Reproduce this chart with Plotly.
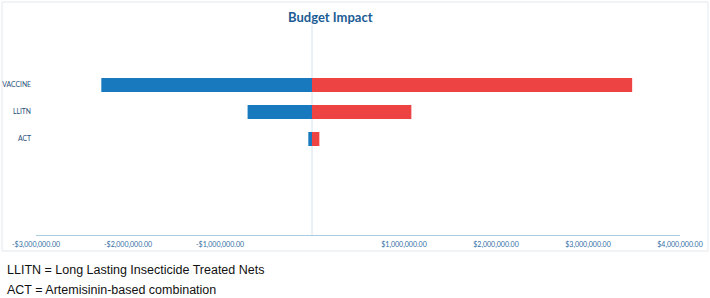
import plotly.graph_objects as go

# ---- data ----
categories = ["VACCINE", "LLITN", "ACT"]
savings = [-2290000, -700000, -40000]      # blue (negative side)
costs = [3480000, 1080000, 80000]          # red (positive side)
x_tick_values = [-3000000, -2000000, -1000000, 1000000, 2000000, 3000000, 4000000]
x_tick_labels = ["-$3,000,000.00", "-$2,000,000.00", "-$1,000,000.00",
                 "$1,000,000.00", "$2,000,000.00", "$3,000,000.00", "$4,000,000.00"]
title_text = "Budget Impact"
footnotes = ["LLITN = Long Lasting Insecticide Treated Nets",
             "ACT = Artemisinin-based combination"]

W, H = 710, 298
L, R, T, B = 36, 30, 46, 63
pw, ph = W - L - R, H - T - B

def px_x(px):
    return (px - L) / pw

def px_y(py):
    return (H - B - py) / ph

fig = go.Figure()
fig.add_trace(go.Bar(y=categories, x=savings, orientation="h", width=0.52,
                     marker=dict(color="#1879be", line=dict(width=0)),
                     hoverinfo="x+y", showlegend=False))
fig.add_trace(go.Bar(y=categories, x=costs, orientation="h", width=0.52,
                     marker=dict(color="#ee4343", line=dict(width=0)),
                     hoverinfo="x+y", showlegend=False))

fig.update_layout(
    width=W, height=H,
    margin=dict(l=L, r=R, t=T, b=B, pad=0, autoexpand=False),
    barmode="relative",
    paper_bgcolor="white", plot_bgcolor="white",
    font=dict(family="Lato, sans-serif"),
    xaxis=dict(range=[-3000000, 4000000], tickvals=x_tick_values, ticktext=x_tick_labels,
               showgrid=False, zeroline=False, showline=True, linecolor="#a9cde0",
               linewidth=1, ticks="", tickfont=dict(size=7, color="#2e6da4"),
               ticklabelstandoff=3, automargin=False, fixedrange=True),
    yaxis=dict(categoryorder="array", categoryarray=categories[::-1],
               range=[-(235 - 139) / 27, (139 - 46) / 27],
               showgrid=False, zeroline=False, showline=False, ticks="",
               tickfont=dict(size=6.8, color="#1f4e79"), ticklabelstandoff=4,
               automargin=False, fixedrange=True),
    shapes=[
        dict(type="rect", xref="paper", yref="paper",
             x0=px_x(2), x1=px_x(708), y0=px_y(251), y1=px_y(2),
             line=dict(color="#e3e8ec", width=1), fillcolor="rgba(0,0,0,0)", layer="below"),
        dict(type="line", xref="x", yref="paper", x0=0, x1=0,
             y0=0, y1=px_y(25), line=dict(color="#d3e4ee", width=1), layer="below"),
    ],
    annotations=[
        dict(text="<b>%s</b>" % title_text, xref="paper", yref="paper",
             x=px_x(330), y=px_y(17), xanchor="center", yanchor="middle",
             showarrow=False, font=dict(family="Lato, sans-serif", size=13, color="#1c5c94")),
        dict(text=footnotes[0], xref="paper", yref="paper",
             x=px_x(5), y=px_y(270), xanchor="left", yanchor="middle",
             showarrow=False, font=dict(family="Liberation Sans, Arial, sans-serif", size=12.5, color="#111111")),
        dict(text=footnotes[1], xref="paper", yref="paper",
             x=px_x(5), y=px_y(290), xanchor="left", yanchor="middle",
             showarrow=False, font=dict(family="Liberation Sans, Arial, sans-serif", size=12.5, color="#111111")),
    ],
)

fig.write_html("out.html", config={"displayModeBar": False},
               post_script="document.body.style.margin='0';document.body.style.overflow='hidden';")
